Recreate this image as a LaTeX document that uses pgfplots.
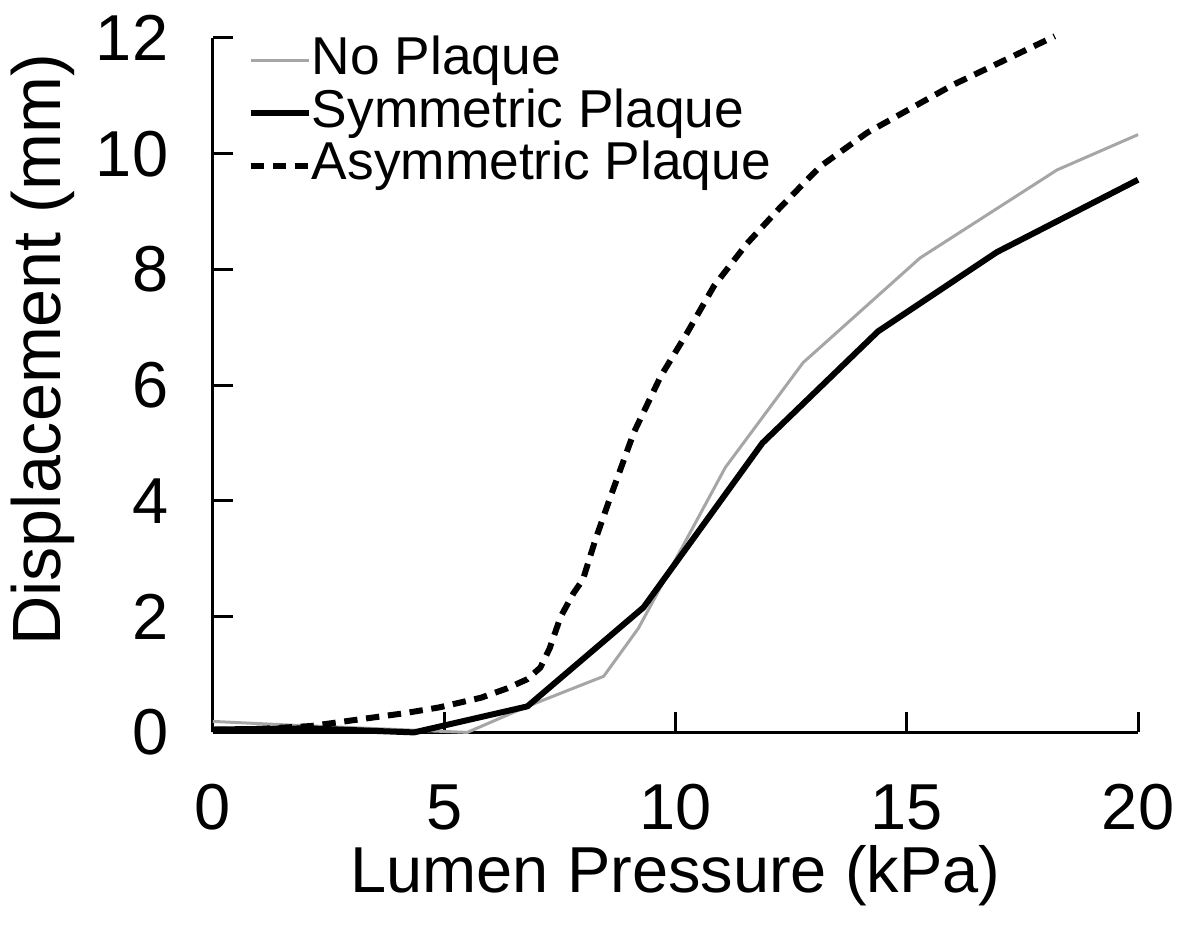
\documentclass[border=0pt]{standalone}
\usepackage{pgfplots}
\pgfplotsset{compat=1.18}
\usepackage{fontspec}
\setmainfont{Liberation Sans}
\definecolor{lightline}{RGB}{166,166,166}

\begin{document}
\begin{tikzpicture}
\begin{axis}[
  scale only axis,
  width=277.8pt, height=208.5pt,
  xmin=0, xmax=20, ymin=0, ymax=12,
  axis x line=bottom, axis y line=left,
  axis line style={line width=0.9pt, -},
  xtick={0,5,10,15,20}, ytick={0,2,...,12},
  tick align=inside, major tick length=6pt,
  tick style={line width=0.9pt, black},
  /pgf/number format/assume math mode=true,
  ticklabel style={font=\fontsize{19.5}{20}\selectfont, inner sep=0pt},
  xticklabel style={anchor=base, yshift=-29.1pt},
  yticklabel style={anchor=east, xshift=-13.2pt},
  xlabel={Lumen Pressure (kPa)},
  ylabel={Displacement (mm)},
  xlabel style={font=\fontsize{19.5}{22}\selectfont, at={(axis description cs:0.5,-0.230)}, anchor=base},
  ylabel style={font=\fontsize{20.5}{22}\selectfont, at={(axis description cs:-0.1836,0.551)}, anchor=center},
  legend style={at={(axis description cs:0.038,1.0)}, anchor=north west, yshift=1pt,
    draw=none, fill=none, inner sep=0pt, outer sep=0pt,
    font=\fontsize{16}{19}\selectfont, row sep=0pt, column sep=0pt,
    nodes={inner sep=0pt, text height=12pt, text depth=3.75pt},
    cells={anchor=west}},
  legend image code/.code={\draw[#1] (0pt,0pt) -- (17.4pt,0pt);},
  line join=round,
  clip=false,
]
\coordinate (bl) at (rel axis cs:0,0);
\coordinate (tr) at (rel axis cs:1,1);

% no plaque
\addplot[lightline, line width=0.9pt] coordinates {
  (0,0.19) (1.85,0.12) (3.7,0.06) (5.5,0) (6.8,0.45) (8.45,0.97)
  (9.2,1.8) (11.08,4.58) (12.76,6.39) (15.29,8.2) (18.25,9.72) (20,10.33)};
% symmetric plaque
\addplot[black, line width=1.8pt] coordinates {
  (0,0.05) (2.05,0.07) (4.35,0) (6.8,0.45) (9.31,2.16) (11.88,5.0)
  (14.38,6.93) (16.95,8.3) (20,9.55)};
% asymmetric plaque
\addplot[black, line width=1.8pt, dash pattern=on 4pt off 2.6pt] coordinates {
  (0,0.04) (1,0.06) (2.12,0.11) (3.12,0.22) (4.13,0.33) (4.88,0.43)
  (5.8,0.6) (6.36,0.76) (6.8,0.92) (7.08,1.12) (7.28,1.45) (7.52,2.0)
  (7.8,2.41) (8.0,2.64) (8.27,3.33) (8.6,4.08) (9.1,5.18) (9.68,6.15)
  (10.25,6.9) (10.83,7.71) (11.55,8.45) (12.24,9.05) (13.13,9.78)
  (14.14,10.36) (16.0,11.19) (18.2,12.03)};

\legend{No Plaque, Symmetric Plaque, Asymmetric Plaque}
\end{axis}
\path ([shift={(-63.6pt,-60.6pt)}]bl) rectangle ([shift={(18.6pt,11.4pt)}]tr);
\end{tikzpicture}
\end{document}
